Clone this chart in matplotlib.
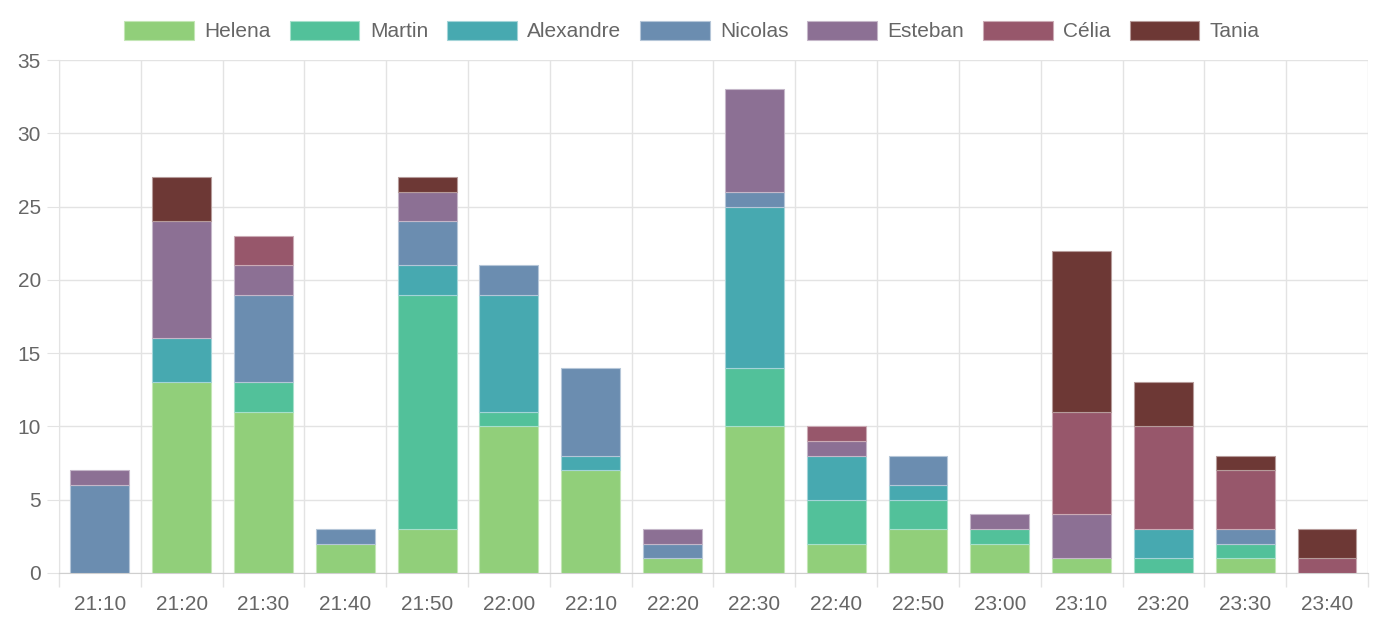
import matplotlib.pyplot as plt
import numpy as np

plt.rcParams['font.family'] = ['Liberation Sans', 'DejaVu Sans']

times = ['21:10', '21:20', '21:30', '21:40', '21:50', '22:00', '22:10', '22:20',
         '22:30', '22:40', '22:50', '23:00', '23:10', '23:20', '23:30', '23:40']

helena    = [0, 13, 11, 2, 3, 10, 7, 1, 10, 2, 3, 2, 1, 0, 1, 0]
martin    = [0, 0, 2, 0, 16, 1, 0, 0, 4, 3, 2, 1, 0, 1, 1, 0]
alexandre = [0, 3, 0, 0, 2, 8, 1, 0, 11, 3, 1, 0, 0, 2, 0, 0]
nicolas   = [6, 0, 6, 1, 3, 2, 6, 1, 1, 0, 2, 0, 0, 0, 1, 0]
esteban   = [1, 8, 2, 0, 2, 0, 0, 1, 7, 1, 0, 1, 3, 0, 0, 0]
celia     = [0, 0, 2, 0, 0, 0, 0, 0, 0, 1, 0, 0, 7, 7, 4, 1]
tania     = [0, 3, 0, 0, 1, 0, 0, 0, 0, 0, 0, 0, 11, 3, 1, 2]

names = ['Helena', 'Martin', 'Alexandre', 'Nicolas', 'Esteban', 'Célia', 'Tania']
series = [helena, martin, alexandre, nicolas, esteban, celia, tania]
colors = ['#91cf7a', '#52c19a', '#47a9b0', '#6b8db0', '#8c7094', '#97576b', '#6d3835']
edges = ['#c3e6b5', '#a6e0cb', '#a3d4d8', '#b5c6d8', '#c5b7c9', '#cbabb5', '#b69b9a']

fig = plt.figure(figsize=(13.98, 6.37), dpi=100)
ax = fig.add_axes([0.0422, 0.1005, 0.9363, 0.8053])

x = np.arange(len(times))
bottom = np.zeros(len(times))
for name, vals, c, ec in zip(names, series, colors, edges):
    vals = np.array(vals, dtype=float)
    nz = vals > 0
    ax.bar(x[nz], vals[nz], width=0.72, bottom=bottom[nz], color=c, edgecolor=ec,
           linewidth=0.8, label=name, zorder=3)
    bottom += vals

ax.set_xlim(-0.5, len(times) - 0.5)
ax.set_ylim(0, 35)
ax.set_yticks(range(0, 36, 5))
ax.set_xticks(x)
ax.set_xticklabels(times)
ax.set_xticks(np.arange(-0.5, len(times), 1), minor=True)

ax.grid(True, axis='y', color='#e3e3e3', linewidth=1, zorder=0)
ax.grid(True, axis='x', which='minor', color='#e3e3e3', linewidth=1, zorder=0)
ax.tick_params(axis='x', which='major', length=0, labelsize=15, colors='#666666', pad=16)
ax.tick_params(axis='x', which='minor', length=10, color='#e3e3e3', width=1)
ax.tick_params(axis='y', length=9, color='#e3e3e3', labelsize=15, labelcolor='#666666', pad=4)

for s in ['top', 'right']:
    ax.spines[s].set_visible(False)
ax.spines['left'].set_color('#e3e3e3')
ax.spines['bottom'].set_color('#cfcfcf')

leg = fig.legend(loc='center', bbox_to_anchor=(0.495, 0.951), ncol=7,
                 frameon=False, fontsize=15, handlelength=3.35, handleheight=1.0,
                 columnspacing=0.9, handletextpad=0.5, labelcolor='#666666')

fig.savefig('out.png', dpi=100)
